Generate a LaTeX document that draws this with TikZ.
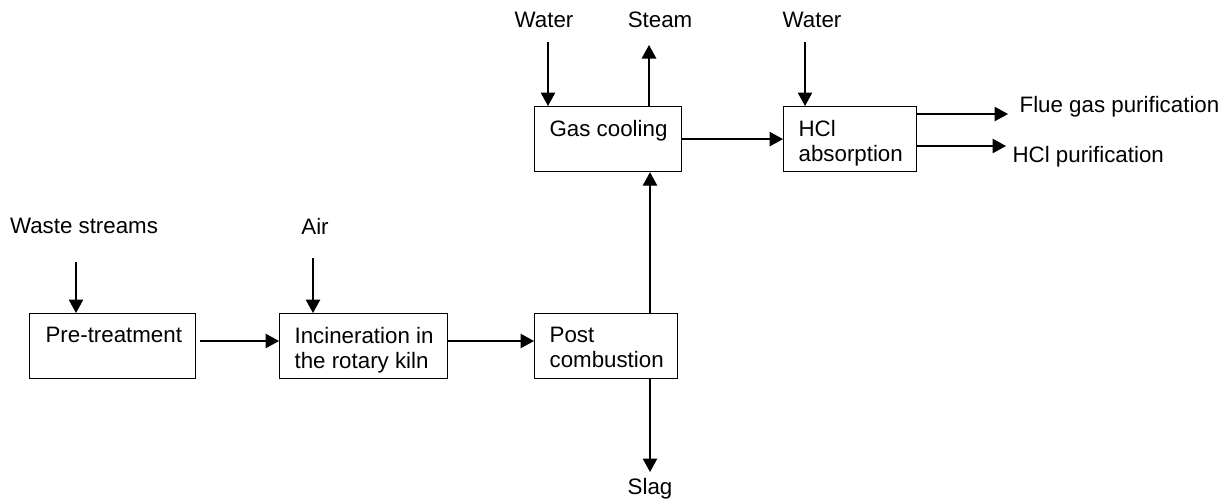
\documentclass[tikz,border=0pt]{standalone}
\usepackage{fontspec}
\setmainfont{Liberation Sans}
\usetikzlibrary{arrows.meta}

\begin{document}
\begin{tikzpicture}[x=0.02cm, y=-0.02cm, >={Triangle[length=0.27cm, width=0.29cm]}, line width=0.7pt,
  every node/.style={font=\fontsize{12.7}{14.2}\selectfont},
  unit/.style={draw, inner sep=0pt, minimum width=#1, minimum height=1.3cm, anchor=north west},
  caption/.style={anchor=north west, inner sep=0pt, align=left}]
  \useasboundingbox (0,0) rectangle (1229,501);

  % process units
  \node[unit=3.32cm] (pre)  at (29,313)  {};
  \node[unit=3.36cm] (inc)  at (279,313) {};
  \node[unit=2.86cm] (post) at (534,313) {};
  \node[unit=2.94cm] (gas)  at (534,106) {};
  \node[unit=2.66cm] (hcl)  at (783,106) {};
  \node[caption] (pre-l)  at ([xshift=0.32cm, yshift=-0.28cm]pre.north west)  {Pre-treatment};
  \node[caption] (inc-l)  at ([xshift=0.3cm, yshift=-0.28cm]inc.north west)  {Incineration in\\the rotary kiln};
  \node[caption] (post-l) at ([xshift=0.3cm, yshift=-0.28cm]post.north west) {Post\\combustion};
  \node[caption] (gas-l)  at ([xshift=0.3cm, yshift=-0.28cm]gas.north west)  {Gas cooling};
  \node[caption] (hcl-l)  at ([xshift=0.3cm, yshift=-0.28cm]hcl.north west)  {HCl\\absorption};

  % streams in and out
  \node (waste)  at (84,226)  {Waste streams};
  \node (air)    at (315,226) {Air};
  \node (water)  at (544,20)  {Water};
  \node (steam)  at (660,20)  {Steam};
  \node (water2) at (812,20)  {Water};
  \node (slag)   at (650,489) {Slag};
  \node[anchor=west, inner sep=0pt] (flue)   at (1019,107) {Flue gas purification};
  \node[anchor=west, inner sep=0pt] (hclpur) at (1012,157) {HCl purification};

  \coordinate (wastein)  at (76,262);
  \coordinate (airin)    at (313,258);
  \coordinate (waterin)  at (548,42);
  \coordinate (steamout) at (649,45);
  \coordinate (waterin2) at (805,42);
  \coordinate (slagout)  at (650,472);
  \coordinate (flueout)  at (1008,114);
  \coordinate (hclout)   at (1006,146);
  \coordinate (preout)   at (200,341);
  \coordinate (incout)   at (447,341);

  \draw[->] (wastein) -- (wastein |- pre.north);
  \draw[->] (airin) -- (airin |- inc.north);
  \draw[->] (preout) -- (preout -| inc.west);
  \draw[->] (incout) -- (incout -| post.west);
  \draw[->] (post.north -| slagout) -- (gas.south -| slagout);
  \draw[->] (post.south -| slagout) -- (slagout);
  \draw[->] (waterin) -- (waterin |- gas.north);
  \draw[->] (gas.north -| steamout) -- (steamout);
  \draw[->] (gas.east) -- (hcl.west);
  \draw[->] (waterin2) -- (waterin2 |- hcl.north);
  \draw[->] (hcl.east |- flueout) -- (flueout);
  \draw[->] (hcl.east |- hclout) -- (hclout);
\end{tikzpicture}
\end{document}
